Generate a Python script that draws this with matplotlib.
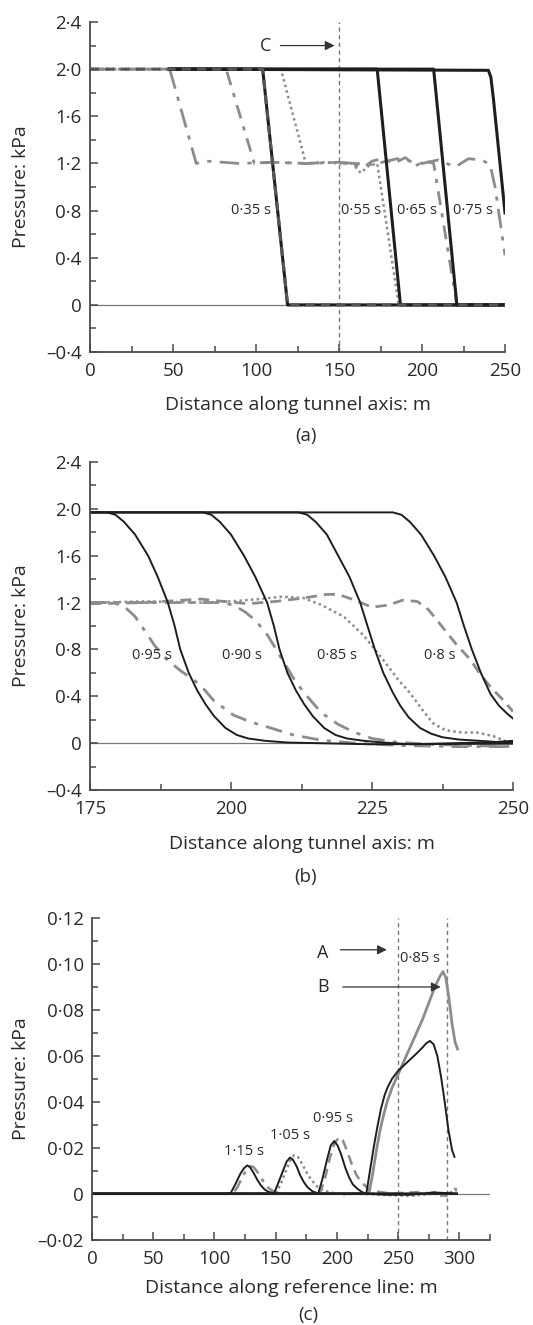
import matplotlib
matplotlib.use('Agg')
import matplotlib.pyplot as plt
from matplotlib.ticker import FixedLocator, MultipleLocator

plt.rcParams['font.family'] = ['Open Sans', 'DejaVu Sans']

# ---------------- panel (a) data ----------------
a_solid_035_x = [48, 104, 119, 250]
a_solid_035_y = [2.0, 2.0, 0.0, 0.0]
a_solid_055_x = [48, 173, 187, 250]
a_solid_055_y = [2.0, 2.0, 0.0, 0.0]
a_solid_065_x = [48, 207, 221, 250]
a_solid_065_y = [2.0, 2.0, 0.0, 0.0]
a_solid_075_x = [48, 240, 241.5, 243, 250]
a_solid_075_y = [2.0, 1.99, 1.93, 1.75, 0.78]

a_dash_035_x = [0, 104, 119, 250]
a_dash_035_y = [2.0, 2.0, 0.0, 0.0]
a_dot_055_x = [0, 115, 130, 140, 150, 158, 163, 168, 173, 186, 250]
a_dot_055_y = [2.0, 2.0, 1.2, 1.21, 1.2, 1.2, 1.12, 1.18, 1.2, 0.0, 0.0]
a_dd_065_x = [0, 82, 99, 110, 130, 150, 165, 170, 176, 183, 190, 196, 202, 207, 221, 250]
a_dd_065_y = [2.0, 2.0, 1.2, 1.21, 1.2, 1.21, 1.17, 1.22, 1.24, 1.2, 1.25, 1.18, 1.22, 1.2, 0.0, 0.0]
a_dd_075_x = [0, 48, 64, 70, 90, 110, 130, 150, 170, 185, 200, 210, 220, 228, 236, 241, 244, 250]
a_dd_075_y = [2.0, 2.0, 1.2, 1.22, 1.2, 1.21, 1.2, 1.21, 1.19, 1.24, 1.2, 1.23, 1.17, 1.24, 1.23, 1.19, 1.0, 0.42]

a_labels = ['0·35 s', '0·55 s', '0·65 s', '0·75 s']
a_label_x = [97, 163, 197, 231]
a_label_y = [0.8, 0.8, 0.8, 0.8]
a_xticks = [0, 50, 100, 150, 200, 250]
a_yticks = [-0.4, 0, 0.4, 0.8, 1.2, 1.6, 2.0, 2.4]
a_yticklabels = ['–0·4', '0', '0·4', '0·8', '1·2', '1·6', '2·0', '2·4']

# ---------------- panel (b) data ----------------
b_s095_x = [175, 178, 179.5, 181, 183, 185.3, 187, 188.8, 190, 191, 192.5, 194, 195.5, 197, 199, 201, 203, 206, 210, 215, 225, 250]
b_s095_y = [1.97, 1.97, 1.95, 1.89, 1.78, 1.6, 1.42, 1.2, 1.0, 0.8, 0.6, 0.45, 0.33, 0.23, 0.13, 0.07, 0.04, 0.02, 0.005, 0.0, -0.01, -0.005]
b_s090_x = [175, 195, 196.5, 198, 200, 202.3, 204.3, 206.4, 207.6, 208.6, 210, 211.5, 213, 214.5, 216.5, 218.5, 220.5, 223.5, 227, 232, 240, 250]
b_s090_y = [1.97, 1.97, 1.95, 1.89, 1.78, 1.6, 1.42, 1.2, 1.0, 0.8, 0.6, 0.45, 0.33, 0.23, 0.13, 0.07, 0.04, 0.02, 0.005, -0.01, 0.0, 0.01]
b_s085_x = [175, 212, 213.5, 215, 217, 219, 221, 222.9, 224.2, 225.5, 227, 228.7, 230, 231.5, 233.5, 235.5, 237.5, 240.5, 244, 247, 250]
b_s085_y = [1.97, 1.97, 1.95, 1.89, 1.78, 1.6, 1.42, 1.2, 1.0, 0.8, 0.6, 0.43, 0.32, 0.22, 0.13, 0.08, 0.05, 0.03, 0.02, 0.01, 0.02]
b_s080_x = [175, 228.7, 230.2, 231.7, 233.7, 236, 238, 240, 241.3, 242.7, 244.3, 246, 247.5, 249, 250]
b_s080_y = [1.97, 1.97, 1.95, 1.89, 1.78, 1.6, 1.42, 1.2, 1.0, 0.8, 0.6, 0.42, 0.32, 0.25, 0.21]

b_dd095_x = [175, 179, 181, 183, 184.7, 186.5, 188.5, 191, 194.5, 197, 200.4, 203.5, 207, 211, 216, 222, 230, 240, 250]
b_dd095_y = [1.2, 1.2, 1.17, 1.08, 0.96, 0.83, 0.72, 0.62, 0.5, 0.36, 0.24, 0.18, 0.13, 0.07, 0.025, 0.0, -0.02, -0.03, -0.03]
b_dd090_x = [175, 190, 198, 200.4, 202.5, 204.5, 206.5, 209, 211.5, 213.5, 216, 219, 222, 225, 229, 235, 242, 250]
b_dd090_y = [1.2, 1.2, 1.2, 1.18, 1.12, 1.04, 0.92, 0.72, 0.52, 0.4, 0.26, 0.16, 0.09, 0.04, 0.01, -0.01, -0.02, -0.03]
b_dot085_x = [175, 185, 195, 200, 205, 209, 212.8, 216, 220, 223.5, 227, 229.5, 231.7, 234, 235.8, 238, 241, 243.6, 246.5, 248.5, 250]
b_dot085_y = [1.2, 1.21, 1.2, 1.21, 1.23, 1.25, 1.24, 1.18, 1.08, 0.92, 0.71, 0.55, 0.43, 0.28, 0.17, 0.11, 0.09, 0.09, 0.06, 0.02, 0.0]
b_dash080_x = [175, 185, 194.5, 203, 208, 213, 217, 219, 222, 225, 228, 230.4, 233, 235, 238, 240, 242.5, 244, 246, 248, 250]
b_dash080_y = [1.19, 1.2, 1.23, 1.19, 1.21, 1.24, 1.27, 1.27, 1.22, 1.16, 1.18, 1.22, 1.21, 1.14, 0.96, 0.84, 0.71, 0.6, 0.48, 0.38, 0.27]

b_labels = ['0·95 s', '0·90 s', '0·85 s', '0·8 s']
b_label_x = [186, 202, 218.8, 237]
b_label_y = [0.75, 0.75, 0.75, 0.75]
b_xticks = [175, 200, 225, 250]

# ---------------- panel (c) data ----------------
c_k115_x = [0, 113, 117, 121, 124, 126.8, 129, 132, 135, 138, 141, 144, 148, 160, 298]
c_k115_y = [0, 0, 0.004, 0.0085, 0.011, 0.0123, 0.0115, 0.009, 0.006, 0.0035, 0.0018, 0.0008, 0.0002, 0, 0]
c_k105_x = [0, 148.6, 152, 156, 159, 161.7, 164, 167, 170, 173, 176, 180, 184, 190, 250, 298]
c_k105_y = [0, 0, 0.0045, 0.01, 0.014, 0.0157, 0.0148, 0.012, 0.008, 0.005, 0.0028, 0.001, 0.0002, 0, 0, 0]
c_k095_x = [0, 184.7, 188, 192, 195, 197.8, 200.5, 203.5, 207, 210, 213, 217, 221, 224, 240, 260, 280, 298]
c_k095_y = [0, 0, 0.006, 0.015, 0.021, 0.0229, 0.021, 0.017, 0.011, 0.007, 0.004, 0.002, 0.0005, 0, -0.0005, -0.0005, 0.0005, 0.0]
c_k085_x = [0, 224, 227, 230, 233, 236, 239, 241.5, 245, 250, 255, 260, 265, 270, 273, 276, 279, 282, 285, 288, 291, 294, 296]
c_k085_y = [0, 0, 0.01, 0.02, 0.029, 0.037, 0.043, 0.0464, 0.05, 0.0535, 0.056, 0.0585, 0.061, 0.0637, 0.0655, 0.0665, 0.065, 0.06, 0.051, 0.04, 0.028, 0.019, 0.016]
c_g085_x = [0, 226, 229, 232, 235, 238, 241, 245, 250, 255, 260, 265, 270, 275, 280, 284, 286.6, 289, 291.5, 294, 296.5, 298.5]
c_g085_y = [0, 0, 0.008, 0.018, 0.027, 0.034, 0.04, 0.046, 0.052, 0.058, 0.064, 0.07, 0.076, 0.083, 0.09, 0.0945, 0.0967, 0.094, 0.085, 0.074, 0.066, 0.063]
c_dd115_x = [0, 115, 119, 123, 127, 129.5, 132, 135, 138, 141, 144, 148, 152, 158, 298]
c_dd115_y = [0, 0, 0.003, 0.0075, 0.011, 0.012, 0.0115, 0.0095, 0.007, 0.0045, 0.0025, 0.001, 0.0003, 0, 0]
c_dot105_x = [0, 150, 154, 158, 162, 165, 168, 171, 175, 179, 184, 190, 197, 205, 215, 250, 260, 270, 280, 288, 294, 298]
c_dot105_y = [0, 0, 0.004, 0.0095, 0.0145, 0.0167, 0.016, 0.0135, 0.0095, 0.006, 0.003, 0.0012, 0.0003, -0.0003, 0, -0.0008, -0.001, -0.0005, 0.0, -0.0015, 0.001, 0.0015]
c_dash095_x = [0, 186, 190, 194, 198, 202, 205, 208, 212, 216, 220, 225, 230, 236, 245, 255, 265, 275, 283, 288, 292, 296, 298]
c_dash095_y = [0, 0, 0.006, 0.015, 0.022, 0.0246, 0.023, 0.019, 0.013, 0.008, 0.005, 0.0025, 0.0012, 0.0006, 0.0, 0.0004, 0.0006, 0.0002, 0.001, -0.001, 0.001, 0.002, 0.002]

c_labels = ['1·15 s', '1·05 s', '0·95 s', '0·85 s']
c_label_x = [124, 161.7, 196.5, 267.5]
c_label_y = [0.0184, 0.0253, 0.0327, 0.1023]
c_xticks = [0, 50, 100, 150, 200, 250, 300]
c_yticks = [-0.02, 0, 0.02, 0.04, 0.06, 0.08, 0.10, 0.12]
c_yticklabels = ['–0·02', '0', '0·02', '0·04', '0·06', '0·08', '0·10', '0·12']

BLACK = '#1e1e1e'
GRAY = '#8c8c8c'
AXC = '#4a4a4a'
TXT = '#2a2a2a'

fig = plt.figure(figsize=(5.33, 13.25), dpi=100)
ax_a = fig.add_axes([0.1689, 0.7343, 0.7786, 0.2491])
ax_b = fig.add_axes([0.1689, 0.4038, 0.7936, 0.2475])
ax_c = fig.add_axes([0.1726, 0.0645, 0.7467, 0.2426])


def style_axes(ax, ylab_x):
    for s in ['top', 'right']:
        ax.spines[s].set_visible(False)
    for s in ['left', 'bottom']:
        ax.spines[s].set_color(AXC)
        ax.spines[s].set_linewidth(1.3)
    ax.tick_params(which='both', direction='in', color=AXC, width=1.1,
                   labelsize=13.5, labelcolor=TXT)
    ax.tick_params(which='major', length=6)
    ax.tick_params(which='minor', length=4)
    ax.tick_params(axis='x', pad=7.5)
    ax.tick_params(axis='y', pad=6)
    ax.set_ylabel('Pressure: kPa', fontsize=14, color=TXT)
    ax.yaxis.set_label_coords(ylab_x, 0.5)


# ---- (a)
ax = ax_a
ax.axhline(0, color='#777777', lw=0.9, zorder=1)
ax.axvline(150, color='#777777', lw=1.0, ls=(0, (3, 2.5)), zorder=1)
ax.plot(a_dd_075_x, a_dd_075_y, color=GRAY, lw=2, ls=(0, (7, 3, 1.5, 3)))
ax.plot(a_dd_065_x, a_dd_065_y, color=GRAY, lw=2, ls=(0, (5, 3, 1.5, 3)))
ax.plot(a_dot_055_x, a_dot_055_y, color=GRAY, lw=1.8, ls=(0, (1, 1.3)))
for xs, ys in [(a_solid_035_x, a_solid_035_y), (a_solid_055_x, a_solid_055_y),
               (a_solid_065_x, a_solid_065_y), (a_solid_075_x, a_solid_075_y)]:
    ax.plot(xs, ys, color=BLACK, lw=2.2)
ax.plot(a_dash_035_x, a_dash_035_y, color='#555555', lw=2.2, ls=(0, (3, 2)))
for t, x, y in zip(a_labels, a_label_x, a_label_y):
    ax.text(x, y, t, fontsize=10.5, ha='center', va='center', color=TXT)
ax.annotate('', xy=(149, 2.2), xytext=(113, 2.2),
            arrowprops=dict(arrowstyle='-|>', color='#333333', lw=0.9, mutation_scale=14))
ax.text(105.5, 2.2, 'C', fontsize=13, ha='center', va='center', color=TXT)
ax.set_xlim(0, 250)
ax.set_ylim(-0.4, 2.4)
ax.xaxis.set_major_locator(FixedLocator(a_xticks))
ax.xaxis.set_minor_locator(MultipleLocator(25))
ax.yaxis.set_major_locator(FixedLocator(a_yticks))
ax.set_yticklabels(a_yticklabels)
ax.yaxis.set_minor_locator(MultipleLocator(0.2))
style_axes(ax, -0.1446)
ax.set_xlabel('Distance along tunnel axis: m', fontsize=14, color=TXT, labelpad=11)

# ---- (b)
ax = ax_b
ax.axhline(0, color='#777777', lw=0.9, zorder=1)
ax.plot(b_dash080_x, b_dash080_y, color=GRAY, lw=2, ls=(0, (4, 2.5)))
ax.plot(b_dot085_x, b_dot085_y, color=GRAY, lw=1.8, ls=(0, (1, 1.3)))
ax.plot(b_dd090_x, b_dd090_y, color=GRAY, lw=2, ls=(0, (6, 3, 1.5, 3)))
ax.plot(b_dd095_x, b_dd095_y, color=GRAY, lw=2, ls=(0, (6, 3, 1.5, 3)))
for xs, ys in [(b_s095_x, b_s095_y), (b_s090_x, b_s090_y),
               (b_s085_x, b_s085_y), (b_s080_x, b_s080_y)]:
    ax.plot(xs, ys, color=BLACK, lw=1.4)
for t, x, y in zip(b_labels, b_label_x, b_label_y):
    ax.text(x, y, t, fontsize=10.5, ha='center', va='center', color=TXT)
ax.set_xlim(175, 250)
ax.set_ylim(-0.4, 2.4)
ax.xaxis.set_major_locator(FixedLocator(b_xticks))
ax.xaxis.set_minor_locator(MultipleLocator(12.5))
ax.yaxis.set_major_locator(FixedLocator(a_yticks))
ax.set_yticklabels(a_yticklabels)
ax.yaxis.set_minor_locator(MultipleLocator(0.2))
style_axes(ax, -0.1418)
ax.set_xlabel('Distance along tunnel axis: m', fontsize=14, color=TXT, labelpad=12)

# ---- (c)
ax = ax_c
ax.axhline(0, color='#777777', lw=0.9, zorder=1)
ax.axvline(250, color='#777777', lw=1.0, ls=(0, (3, 2.5)), zorder=1)
ax.axvline(290, color='#777777', lw=1.0, ls=(0, (3, 2.5)), zorder=1)
ax.plot(c_dd115_x, c_dd115_y, color=GRAY, lw=1.8, ls=(0, (5, 2.5, 1.5, 2.5)))
ax.plot(c_dot105_x, c_dot105_y, color=GRAY, lw=1.8, ls=(0, (1, 1.3)))
ax.plot(c_dash095_x, c_dash095_y, color=GRAY, lw=1.8, ls=(0, (4, 2.5)))
ax.plot(c_g085_x, c_g085_y, color=GRAY, lw=2)
for xs, ys in [(c_k115_x, c_k115_y), (c_k105_x, c_k105_y),
               (c_k095_x, c_k095_y), (c_k085_x, c_k085_y)]:
    ax.plot(xs, ys, color=BLACK, lw=1.4)
for t, x, y in zip(c_labels, c_label_x, c_label_y):
    ax.text(x, y, t, fontsize=10.5, ha='center', va='center', color=TXT)
ax.annotate('', xy=(243, 0.1062), xytext=(200.5, 0.1062),
            arrowprops=dict(arrowstyle='-|>', color='#333333', lw=0.9, mutation_scale=14))
ax.text(188, 0.105, 'A', fontsize=13, ha='center', va='center', color=TXT)
ax.annotate('', xy=(287, 0.09), xytext=(202.5, 0.09),
            arrowprops=dict(arrowstyle='-|>', color='#333333', lw=0.9, mutation_scale=14))
ax.text(189, 0.0898, 'B', fontsize=13, ha='center', va='center', color=TXT)
ax.set_xlim(0, 325)
ax.set_ylim(-0.02, 0.12)
ax.xaxis.set_major_locator(FixedLocator(c_xticks))
ax.xaxis.set_minor_locator(MultipleLocator(25))
ax.yaxis.set_major_locator(FixedLocator(c_yticks))
ax.set_yticklabels(c_yticklabels)
ax.yaxis.set_minor_locator(MultipleLocator(0.01))
style_axes(ax, -0.1558)
ax.set_xlabel('Distance along reference line: m', fontsize=14, color=TXT, labelpad=8)

fig.text(306 / 533, 1 - 436 / 1325, '(a)', fontsize=13.5, ha='center', va='center', color=TXT)
fig.text(306 / 533, 1 - 877 / 1325, '(b)', fontsize=13.5, ha='center', va='center', color=TXT)
fig.text(308 / 533, 1 - 1315 / 1325, '(c)', fontsize=13.5, ha='center', va='center', color=TXT)

fig.savefig('out.png', dpi=100)
